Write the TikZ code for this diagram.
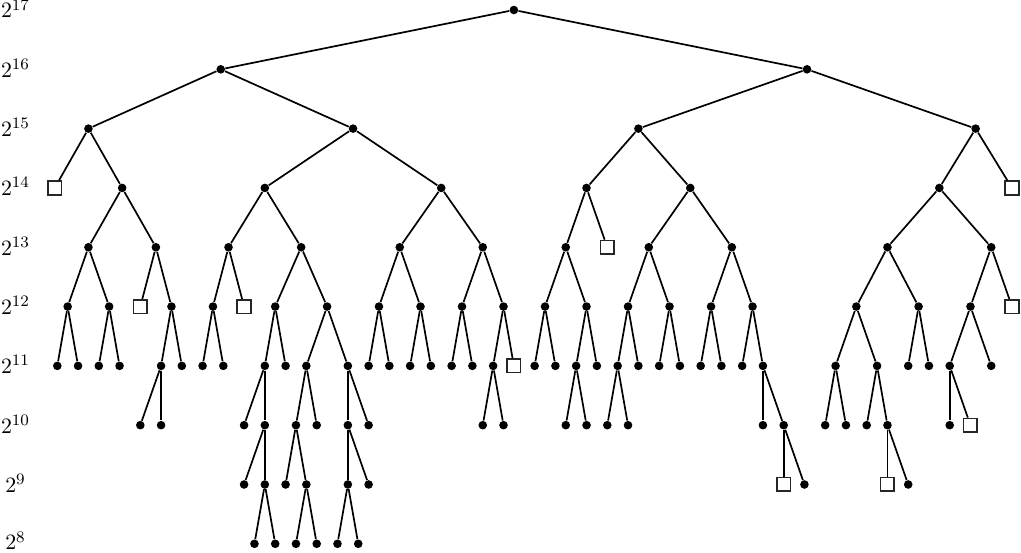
\documentclass[tikz,border=0pt]{standalone}
\begin{document}
\begin{tikzpicture}[x=5.1885pt, y=29.655pt,
  dot/.style={circle, fill=black, inner sep=0pt, minimum size=4.3pt},
  sq/.style={draw=black!85, fill=white, line width=0.8pt, inner sep=0pt, minimum size=6.8pt},
  edge/.style={line width=0.85pt},
  lvl/.style={anchor=center, inner sep=0pt, font=\fontsize{10.95}{13}\selectfont}]
\useasboundingbox (-5.522,7.845) rectangle (92.87,17.169);
% level labels
\foreach \L in {9,...,17} \node[lvl] (lab\L) at (-4.03,\L+0.02) {$2^{\L}$};
\node[lvl] (lab8) at (-4.03,8.05) {$2^{8}$};
% level 17, 16, 15
\node[dot] (n17x44) at (44,17) {};
\node[dot] (n16xA) at (15.75,16) {};
\node[dot] (n16xB) at (72.25,16) {};
\node[dot] (n15x3) at (3,15) {};
\node[dot] (n15x28h) at (28.5,15) {};
\node[dot] (n15x56) at (56,15) {};
\node[dot] (n15x88h) at (88.5,15) {};
% level 14
\node[sq] (n14xm) at (-0.25,14) {};
\node[dot] (n14x6q) at (6.25,14) {};
\foreach \k in {20,37,51,61,85} \node[dot] (n14x\k) at (\k,14) {};
\node[sq] (n14x92) at (92,14) {};
% level 13
\node[dot] (n13x9h) at (9.5,13) {};
\node[dot] (n13x16h) at (16.5,13) {};
\node[dot] (n13x23h) at (23.5,13) {};
\foreach \k in {3,33,41,49,57,65,80,90} \node[dot] (n13x\k) at (\k,13) {};
\node[sq] (n13x53) at (53,13) {};
% level 12
\foreach \k in {1,5,11,15,21,26,31,35,39,43,47,51,55,59,63,67,77,83,88} \node[dot] (n12x\k) at (\k,12) {};
\foreach \k in {8,18,92} \node[sq] (n12x\k) at (\k,12) {};
% level 11
\foreach \k in {0,2,4,6,10,12,14,16,20,22,24,28,30,32,34,36,38,40,42,46,48,50,52,54,56,58,60,62,64,66,68,75,79,82,84,86,90} \node[dot] (n11x\k) at (\k,11) {};
\node[sq] (n11x44) at (44,11) {};
% level 10
\foreach \k in {8,10,18,20,23,25,28,30,41,43,49,51,53,55,68,70,74,76,78,80,86} \node[dot] (n10x\k) at (\k,10) {};
\node[sq] (n10x88) at (88,10) {};
% level 9
\foreach \k in {18,20,22,24,28,30,72,82} \node[dot] (n9x\k) at (\k,9) {};
\foreach \k in {70,80} \node[sq] (n9x\k) at (\k,9) {};
% level 8
\foreach \k in {19,21,23,25,27,29} \node[dot] (n8x\k) at (\k,8) {};
% edges
\foreach \p/\c in {
  17x44/16xA, 17x44/16xB,
  16xA/15x3, 16xA/15x28h, 16xB/15x56, 16xB/15x88h,
  15x3/14xm, 15x3/14x6q, 15x28h/14x20, 15x28h/14x37,
  15x56/14x51, 15x56/14x61, 15x88h/14x85, 15x88h/14x92,
  14x6q/13x3, 14x6q/13x9h, 14x20/13x16h, 14x20/13x23h,
  14x37/13x33, 14x37/13x41, 14x51/13x49, 14x51/13x53,
  14x61/13x57, 14x61/13x65, 14x85/13x80, 14x85/13x90,
  13x3/12x1, 13x3/12x5, 13x9h/12x8, 13x9h/12x11,
  13x16h/12x15, 13x16h/12x18, 13x23h/12x21, 13x23h/12x26,
  13x33/12x31, 13x33/12x35, 13x41/12x39, 13x41/12x43,
  13x49/12x47, 13x49/12x51, 13x57/12x55, 13x57/12x59,
  13x65/12x63, 13x65/12x67, 13x80/12x77, 13x80/12x83,
  13x90/12x88, 13x90/12x92,
  12x1/11x0, 12x1/11x2, 12x5/11x4, 12x5/11x6,
  12x11/11x10, 12x11/11x12, 12x15/11x14, 12x15/11x16,
  12x21/11x20, 12x21/11x22, 12x26/11x24, 12x26/11x28,
  12x31/11x30, 12x31/11x32, 12x35/11x34, 12x35/11x36,
  12x39/11x38, 12x39/11x40, 12x43/11x42, 12x43/11x44,
  12x47/11x46, 12x47/11x48, 12x51/11x50, 12x51/11x52,
  12x55/11x54, 12x55/11x56, 12x59/11x58, 12x59/11x60,
  12x63/11x62, 12x63/11x64, 12x67/11x66, 12x67/11x68,
  12x77/11x75, 12x77/11x79, 12x83/11x82, 12x83/11x84,
  12x88/11x86, 12x88/11x90,
  11x10/10x8, 11x10/10x10, 11x20/10x18, 11x20/10x20,
  11x24/10x23, 11x24/10x25, 11x28/10x28, 11x28/10x30,
  11x42/10x41, 11x42/10x43, 11x50/10x49, 11x50/10x51,
  11x54/10x53, 11x54/10x55, 11x68/10x68, 11x68/10x70,
  11x75/10x74, 11x75/10x76, 11x79/10x78, 11x79/10x80,
  11x86/10x86, 11x86/10x88,
  10x20/9x18, 10x20/9x20, 10x23/9x22, 10x23/9x24,
  10x28/9x28, 10x28/9x30, 10x70/9x70, 10x70/9x72,
  10x80/9x80, 10x80/9x82,
  9x20/8x19, 9x20/8x21, 9x24/8x23, 9x24/8x25,
  9x28/8x27, 9x28/8x29}
  \draw[edge] (n\p) -- (n\c);
\end{tikzpicture}
\end{document}
